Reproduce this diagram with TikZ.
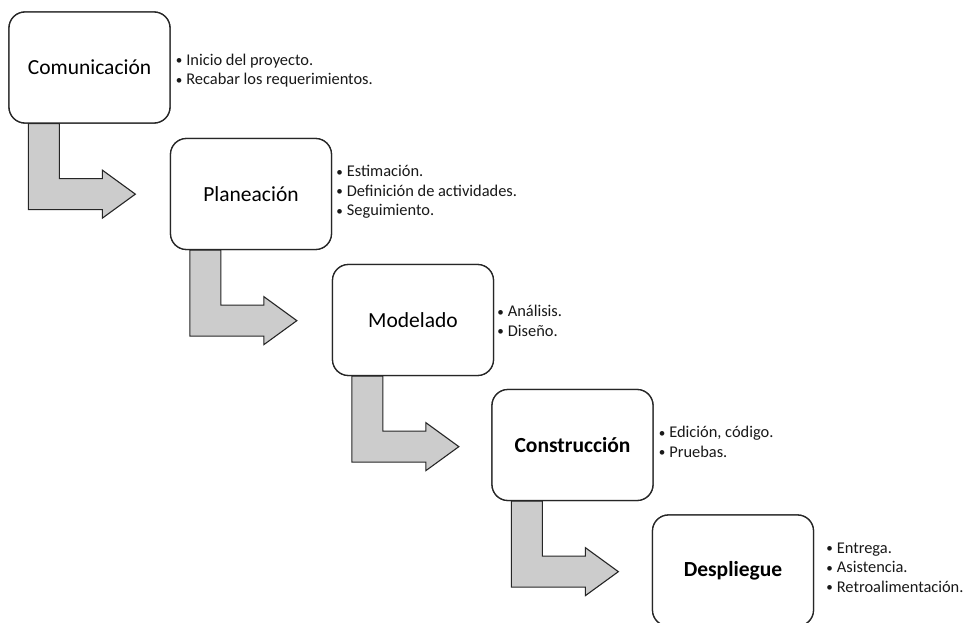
\documentclass[tikz,border=0pt]{standalone}
\usepackage{fontspec}
\setmainfont{Carlito}
\begin{document}
\begin{tikzpicture}[x=1pt,y=-1pt,
  stagebox/.style={draw=black!85, line width=1.3pt, rounded corners=16pt, fill=white,
    minimum width=161pt, minimum height=111pt, inner sep=0pt,
    font=\fontsize{21.5}{25}\selectfont},
  notes/.style={anchor=west, align=left, inner sep=0pt, text=black!90,
    font=\fontsize{16.4}{19.5}\selectfont},
  bentarrow/.style={draw=black!85, line width=1.1pt, fill=black!20, line join=miter}]
\clip (0,0) rectangle (967,623);
\fill[white] (0,0) rectangle (967,623);
% boxes
\node[stagebox] (b1) at (89.5,67.5) {Comunicación};
\node[stagebox] (b2) at (251,194) {Planeación};
\node[stagebox] (b3) at (413,320) {Modelado};
\node[stagebox] (b4) at (572.5,445) {\textbf{Construcción}};
\node[stagebox] (b5) at (733,570.5) {\textbf{Despliegue}};
% bent arrows
\foreach \a in {b1,b2,b3,b4}{
  \draw[bentarrow] ([shift={(20,0)}]\a.south west) -- ++(0,86) -- ++(74,0) -- ++(0,8.5)
    -- ++(33,-24) -- ++(-33,-24) -- ++(0,8.5) -- ++(-43,0) -- ++(0,-55) -- cycle;
}
% redraw boxes on top
\node[stagebox] at (b1) {Comunicación};
\node[stagebox] at (b2) {Planeación};
\node[stagebox] at (b3) {Modelado};
\node[stagebox] at (b4) {\textbf{Construcción}};
\node[stagebox] at (b5) {\textbf{Despliegue}};
% notes
\newcommand{\bul}{\makebox[10.5pt][l]{\raisebox{0.5pt}{\scalebox{0.8}{•}}}}
\node[notes] (n1) at ([shift={(5,3)}]b1.east) {\bul Inicio del proyecto.\\\bul Recabar los requerimientos.};
\node[notes] (n2) at ([shift={(4,-2)}]b2.east) {\bul Estimación.\\\bul Definición de actividades.\\\bul Seguimiento.};
\node[notes] (n3) at ([shift={(3,1)}]b3.east) {\bul Análisis.\\\bul Diseño.};
\node[notes] (n4) at ([shift={(5,-3)}]b4.east) {\bul Edición, código.\\\bul Pruebas.};
\node[notes] (n5) at ([shift={(12,-3)}]b5.east) {\bul Entrega.\\\bul Asistencia.\\\bul Retroalimentación.};
\end{tikzpicture}
\end{document}
